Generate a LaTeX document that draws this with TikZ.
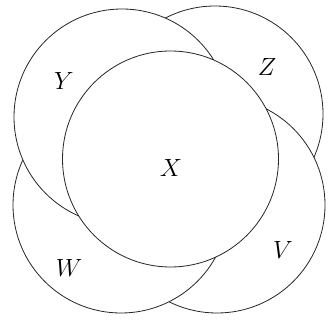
\documentclass[tikz,border=0pt]{standalone}
\begin{document}
\begin{tikzpicture}[x=1pt,y=-1pt,
  setc/.style={circle,draw=black!85,line width=0.8pt,fill=white,minimum size=216pt,inner sep=0pt},
  lab/.style={font=\fontsize{29}{34}\selectfont,inner sep=0pt}]
\useasboundingbox (0,0) rectangle (328,320);
\node[setc] (cz) at (215,114) {};
\node[setc] (cv) at (217,205) {};
\node[setc] (cw) at (121,205) {};
\node[setc] (cy) at (122,117) {};
\node[setc] (cx) at (170.5,159) {};
\node[lab] (ly) at (64,81) {$Y$};
\node[lab] (lz) at (267,67) {$Z$};
\node[lab] (lx) at (171,168) {$X$};
\node[lab] (lw) at (69,268) {$W$};
\node[lab] (lv) at (283,250) {$V$};
\end{tikzpicture}
\end{document}
